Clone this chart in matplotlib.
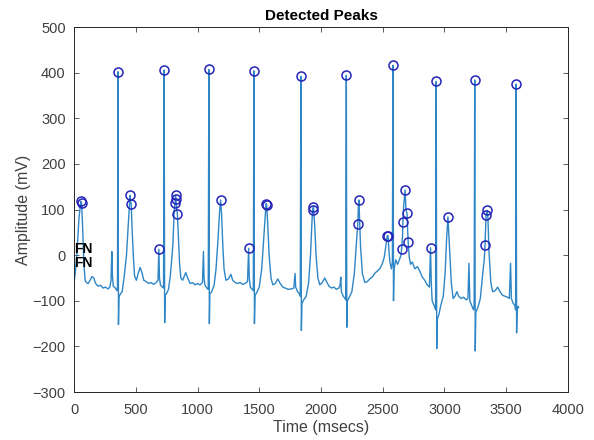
import matplotlib
matplotlib.use('Agg')
import matplotlib.pyplot as plt

plt.rcParams['font.family'] = ['Liberation Sans', 'DejaVu Sans']

# ECG trace (time in ms, amplitude in mV)
t_ms = [0, 10, 25, 40, 55, 61, 70, 80, 90, 100, 115, 130, 145, 160, 175, 195, 215, 235, 255, 275, 290, 300,
        306, 311, 318, 335, 348, 352, 356, 360, 364, 375, 390, 405, 425, 440, 454, 458, 463, 470, 480, 490,
        505, 520, 535, 550, 565, 585, 605, 625, 645, 665, 680, 687, 692, 700, 715, 725, 730, 734, 738, 750,
        765, 780, 800, 812, 819, 822, 825, 832, 837, 845, 855, 865, 880, 895, 905, 920, 940, 960, 980, 1000,
        1020, 1040, 1048, 1053, 1060, 1075, 1087, 1092, 1096, 1100, 1115, 1135, 1150, 1165, 1180, 1187, 1195,
        1205, 1215, 1230, 1250, 1270, 1285, 1305, 1325, 1345, 1365, 1385, 1405, 1414, 1419, 1428, 1440, 1452,
        1457, 1461, 1466, 1480, 1500, 1520, 1540, 1555, 1560, 1570, 1580, 1595, 1610, 1630, 1650, 1665, 1690,
        1710, 1735, 1760, 1780, 1790, 1795, 1810, 1825, 1832, 1837, 1841, 1846, 1860, 1880, 1900, 1915, 1928,
        1933, 1939, 1950, 1960, 1975, 1990, 2010, 2030, 2045, 2065, 2085, 2105, 2125, 2145, 2155, 2160, 2165,
        2180, 2195, 2200, 2205, 2209, 2214, 2230, 2250, 2270, 2285, 2298, 2303, 2307, 2312, 2320, 2335, 2355,
        2375, 2395, 2415, 2435, 2455, 2475, 2495, 2512, 2525, 2537, 2543, 2550, 2558, 2570, 2578, 2583, 2587,
        2592, 2605, 2620, 2635, 2648, 2653, 2660, 2663, 2670, 2681, 2688, 2696, 2706, 2715, 2725, 2740, 2760,
        2780, 2800, 2820, 2840, 2860, 2878, 2887, 2893, 2900, 2915, 2928, 2933, 2937, 2942, 2955, 2970, 2990,
        3005, 3018, 3028, 3040, 3055, 3070, 3085, 3100, 3115, 3135, 3155, 3175, 3190, 3198, 3205, 3220, 3235,
        3240, 3245, 3249, 3254, 3270, 3290, 3310, 3322, 3328, 3337, 3347, 3352, 3360, 3375, 3390, 3410, 3430,
        3450, 3470, 3490, 3510, 3525, 3535, 3542, 3555, 3570, 3576, 3580, 3584, 3588, 3595, 3600]
amp_mv = [-60, -40, 10, 80, 118, 115, 60, -20, -55, -60, -62, -55, -47, -50, -62, -68, -66, -72, -70, -74, -70, -55,
          8, -45, -68, -72, -78, -70, 402, -152, -92, -85, -80, -50, 0, 70, 131, 118, 113, 60, 0, -45,
          -55, -40, -27, -38, -55, -58, -62, -60, -64, -60, -55, 13, -50, -65, -70, -72, 406, -148, -88, -84,
          -75, -45, 20, 100, 115, 131, 123, 100, 91, 40, -20, -50, -55, -45, -38, -50, -62, -60, -65, -62,
          -65, -60, 8, -50, -65, -72, -75, 407, -150, -85, -80, -65, -30, 30, 100, 121, 90,
          20, -30, -55, -52, -42, -55, -60, -62, -60, -64, -62, -58, 15, -50, -70, -74, -78,
          404, -150, -88, -82, -70, -30, 50, 113, 111, 60, 0, -50, -65, -62, -52, -60, -70,
          -72, -75, -74, -72, -40, -70, -80, -85, -90, 392, -165, -105, -98, -90, -60, 0, 80,
          100, 106, 60, 0, -50, -65, -60, -50, -58, -68, -72, -70, -75, -72, -65, -48, -80,
          -90, -95, -98, 394, -158, -100, -92, -80, -40, 20, 68, 110, 121, 80, 20, -40, -60,
          -58, -52, -48, -40, -35, -30, -20, -5, 20, 43, 42, 10, -15, -30, -15, 416, -100,
          -30, -10, -20, -10, 0, 14, 40, 72, 110, 143, 100, 92, 28, -5, -20, -15, -30,
          -25, -35, -48, -55, -65, -70, 16, -60, -100, -110, -120, 381, -205, -140, -130, -110, -90,
          -40, 40, 84, 20, -60, -95, -90, -80, -90, -95, -92, -98, -95, -18, -100, -110, -120,
          -110, 384, -210, -125, -115, -95, -40, -10, 22, 89, 98, 80, 10, -60, -80, -78, -70,
          -80, -88, -90, -92, -95, -18, -95, -105, -110, -120, 375, -170, -120, -112, -115]

# detected peaks (circles)
peak_t = [55, 61, 356, 454, 463, 687, 730, 819, 822, 825, 837, 1092, 1187, 1414, 1457, 1558, 1560,
          1837, 1933, 1939, 2205, 2298, 2307, 2537, 2543, 2583, 2653, 2663, 2681, 2696, 2706, 2887,
          2933, 3028, 3245, 3328, 3337, 3347, 3580]
peak_v = [118, 115, 402, 131, 113, 13, 406, 115, 131, 123, 91, 407, 121, 15, 404, 113, 111,
          392, 100, 106, 394, 68, 121, 43, 42, 416, 14, 72, 143, 92, 28, 16,
          381, 84, 384, 22, 89, 98, 375]

fn_labels = ['FN', 'FN']
fn_t = [0, 0]
fn_v = [14, -18]

fig = plt.figure(figsize=(5.94, 4.40), dpi=100)
ax = fig.add_axes([0.1246, 0.109, 0.8316, 0.8295])

ax.plot(t_ms, amp_mv, color='#2e86c6', lw=1.0)
ax.plot(peak_t, peak_v, 'o', mfc='none', mec='#2424b8', ms=6.5, mew=1.1)
for s, x, y in zip(fn_labels, fn_t, fn_v):
    ax.text(x, y, s, fontsize=10, fontweight='bold', color='black', ha='left', va='center')

ax.set_xlim(0, 4000)
ax.set_ylim(-300, 500)
ax.set_xticks(range(0, 4001, 500))
ax.set_yticks(range(-300, 501, 100))
ax.tick_params(direction='in', top=True, right=True, length=3.5, width=0.6,
               labelsize=10.5, colors='#404040')
ax.tick_params(axis='x', pad=8)
ax.tick_params(axis='y', pad=6)
for sp in ax.spines.values():
    sp.set_color('#262626')
    sp.set_linewidth(0.7)

ax.set_title('Detected Peaks', fontsize=11, fontweight='bold', pad=5)
ax.set_xlabel('Time (msecs)', fontsize=11.5, color='#404040', labelpad=2)
ax.set_ylabel('Amplitude (mV)', fontsize=11.5, color='#404040', labelpad=1)

fig.savefig('out.png', dpi=100)
